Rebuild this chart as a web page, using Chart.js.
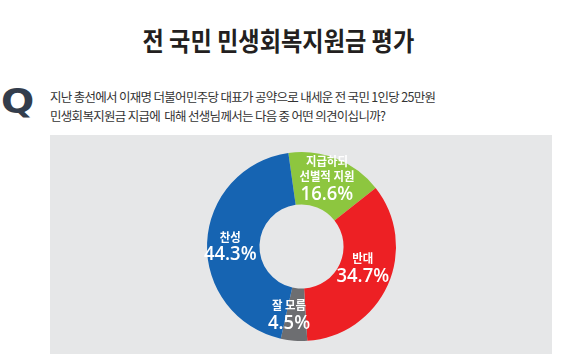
<!DOCTYPE html>
<html><head><meta charset="utf-8">
<script src="https://cdn.jsdelivr.net/npm/chart.js@4.4.1/dist/chart.umd.min.js"></script>
<style>
html,body{margin:0;padding:0;background:#fff;width:580px;height:354px;overflow:hidden;}
body{position:relative;font-family:"Noto Sans CJK KR","Noto Sans",sans-serif;}
#title{position:absolute;top:27px;font-size:26px;line-height:26px;font-weight:700;color:#231f20;white-space:nowrap;transform-origin:center top;}
#q{position:absolute;left:1px;top:84px;font-family:"DejaVu Sans",sans-serif;font-weight:700;font-size:34px;line-height:34px;color:#333d4c;transform:scaleX(1.15);transform-origin:left top;}
#question{position:absolute;left:50px;top:88px;font-size:12.5px;line-height:18.5px;letter-spacing:-0.7px;color:#333;white-space:pre;}
#panel{position:absolute;left:50px;top:135px;width:502px;height:219px;background:#e6e7e8;}
</style></head>
<body>
<div id="title">전 국민 민생회복지원금 평가</div>
<div id="q">Q</div>
<div id="question">지난 총선에서 이재명 더불어민주당 대표가 공약으로 내세운 전 국민 1인당 25만원
민생회복지원금 지급에  대해 선생님께서는 다음 중 어떤 의견이십니까?</div>
<div id="panel"><canvas id="c" width="502" height="219"></canvas></div>
<script>
const categories = ['지급하되 선별적 지원', '반대', '잘 모름', '찬성'];
const labelLines = [['지급하되', '선별적 지원'], ['반대'], ['잘 모름'], ['찬성']];
const values = [16.6, 34.7, 4.5, 44.3];
const colors = ['#8dc63f', '#ed2024', '#6d6e71', '#1664b2'];
const labelNudge = [[0, -5.5], [-1, -7], [-7, 0], [-3, 2]];

// fit the title to the reference's condensed width
(function () {
  const t = document.getElementById('title');
  const w = t.offsetWidth;
  const target = 272, centerX = 278;
  t.style.left = (centerX - w / 2) + 'px';
  t.style.transform = 'scaleX(' + (target / w) + ')';
})();

const labelPlugin = {
  id: 'sliceLabels',
  afterDatasetsDraw(chart) {
    const ctx = chart.ctx;
    const meta = chart.getDatasetMeta(0);
    meta.data.forEach((arc, i) => {
      const p = arc.tooltipPosition();
      const cx = p.x + labelNudge[i][0];
      const cy = p.y + labelNudge[i][1];
      const lines = labelLines[i];
      const n = lines.length;
      const step = 15.5, gap = 17.5;
      const span = (n - 1) * step + gap;
      const y0 = cy - span / 2;
      ctx.save();
      ctx.fillStyle = '#ffffff';
      ctx.textAlign = 'center';
      ctx.textBaseline = 'middle';
      ctx.font = 'bold 12px "Noto Sans CJK KR", sans-serif';
      lines.forEach((t, k) => {
        ctx.save();
        ctx.translate(cx, y0 + k * step);
        ctx.scale(0.95, 1);
        ctx.fillText(t, 0, 0);
        ctx.restore();
      });
      ctx.font = '600 19px "Open Sans", "Noto Sans", sans-serif';
      ctx.save();
      ctx.translate(cx, y0 + (n - 1) * step + gap);
      ctx.scale(0.97, 1);
      ctx.fillText(values[i].toFixed(1) + '%', 0, 0);
      ctx.restore();
      ctx.restore();
    });
  }
};

new Chart(document.getElementById('c'), {
  type: 'doughnut',
  data: {
    labels: categories,
    datasets: [{ data: values, backgroundColor: colors, borderWidth: 0, hoverOffset: 0 }]
  },
  options: {
    responsive: false,
    animation: false,
    rotation: -8,
    cutout: '44.5%',
    layout: { padding: { top: 17, bottom: 13, left: 1, right: 0 } },
    plugins: { legend: { display: false }, tooltip: { enabled: false } },
    events: []
  },
  plugins: [labelPlugin]
});
</script>
</body></html>
